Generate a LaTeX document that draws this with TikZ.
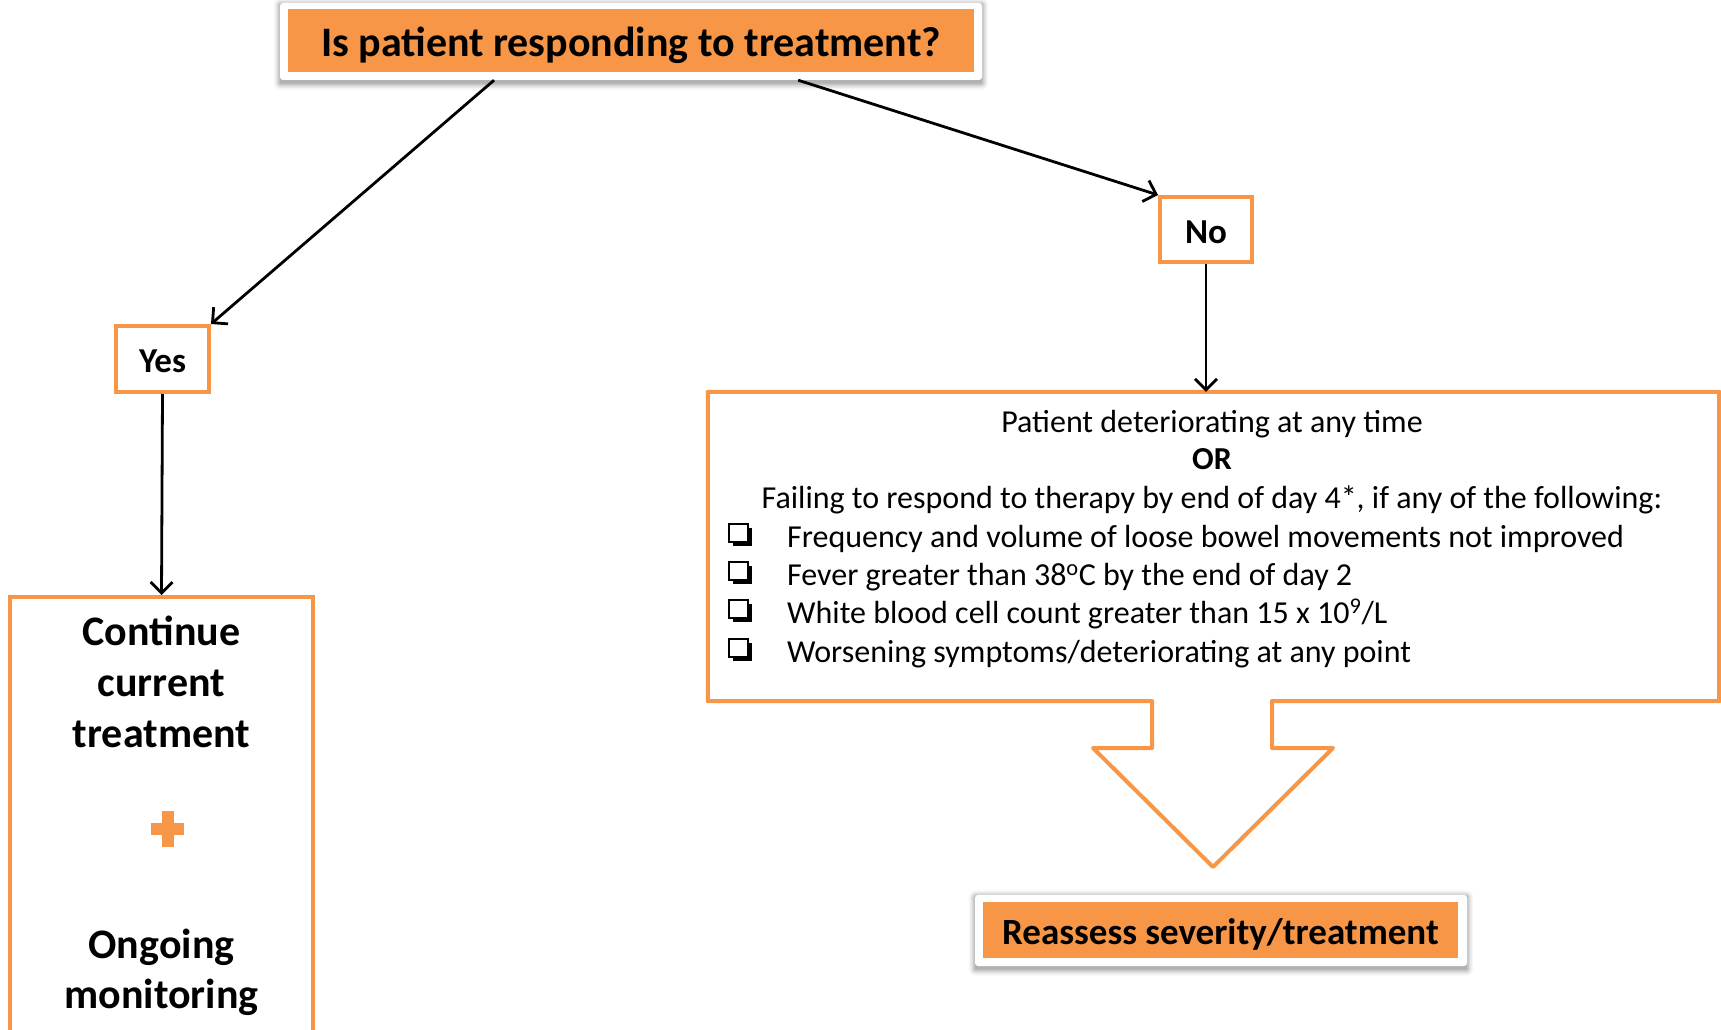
\documentclass[tikz,border=0pt]{standalone}
\usepackage{fontspec}
\setmainfont{Carlito}
\usetikzlibrary{arrows.meta,shadows,calc,backgrounds}
\definecolor{orng}{HTML}{F79646}
\newcommand\softshadow[1]{%
  \begin{scope}[on background layer]
    \foreach \s/\o in {7/0.035,5.5/0.05,4/0.07,2.5/0.09,1/0.1} {
      \fill[black, opacity=\o, rounded corners=\s pt]
        ($(#1.north west)+(-\s+1,-\s+2.5)$) rectangle ($(#1.south east)+(\s-1,\s+2.5)$);
    }
  \end{scope}}
\begin{document}
\begin{tikzpicture}[x=1pt,y=-1pt,
  conn/.style={draw=black, line width=2.8pt, -{Straight Barb[length=11pt,width=22pt,line width=2.8pt]}},
  obox/.style={draw=orng, line width=4pt, fill=white, inner sep=0pt, text height=27pt, text depth=0pt, font=\bfseries\fontsize{35}{38}\selectfont},
  frame/.style={fill=white, inner sep=0pt, rounded corners=3pt},
  title/.style={fill=orng, inner sep=0pt, font=\bfseries\fontsize{42}{46}\selectfont},
  big/.style={font=\bfseries\fontsize{42}{48}\selectfont, anchor=base},
  txt/.style={font=\fontsize{32}{36}\selectfont},
  chk/.style={draw=black, fill=white, line width=1.6pt, minimum width=19pt, minimum height=18pt, inner sep=0pt,
    drop shadow={shadow xshift=3.5pt, shadow yshift=-3.5pt, opacity=1, fill=black}}
]
\useasboundingbox (0,0) rectangle (1721,1030);
\clip (0,0) rectangle (1721,1030);

% top question
\node[frame, minimum width=702pt, minimum height=77pt] (qframe) at (631,41.5) {};
\softshadow{qframe}
\node[title, minimum width=686pt, minimum height=63pt, text height=33pt, text depth=0pt] (q) at (631,40.5) {Is patient responding to treatment?};

% yes / no
\node[obox, minimum width=93pt, minimum height=66pt] (yes) at (162.5,359) {Yes};
\node[obox, minimum width=92pt, minimum height=65pt] (no) at (1206,229.5) {No};

% continue box
\node[draw=orng, line width=4pt, minimum width=303pt, minimum height=520pt, anchor=north] (cont) at (161.5,595) {};
\node[big] (c1) at (161.5,645) {Continue};
\node[big] (c2) at (161.5,696) {current};
\node[big] (c3) at (161.5,747) {treatment};
\node[big] (c4) at (161.5,958) {Ongoing};
\node[big] (c5) at (161.5,1008) {monitoring};
\fill[orng] (161.5,811) rectangle (173.5,847);
\fill[orng] (151,823) rectangle (184,835);

% criteria box
\node[minimum width=1011pt, minimum height=309pt, inner sep=0pt] (crit) at (1213.5,546.5) {};
\draw[orng, line width=4pt, line join=round]
  (crit.north west) -- (crit.north east) -- (crit.south east) -- (1272,701) -- (1272,748)
  -- (1333,748) -- (1213,867) -- (1093,748) -- (1152,748) -- (1152,701) -- (crit.south west) -- cycle;
\node[txt, anchor=base] (l1) at (1212,432) {Patient deteriorating at any time};
\node[txt, anchor=base, font=\bfseries\fontsize{32}{36}\selectfont] (l2) at (1212,469) {OR};
\node[txt, anchor=base] (l3) at (1212,508) {Failing to respond to therapy by end of day 4*, if any of the following:};
\node[chk] (k1) at (738.5,533) {};
\node[chk] (k2) at (738.5,571) {};
\node[chk] (k3) at (738.5,609) {};
\node[chk] (k4) at (738.5,648) {};
\node[txt, anchor=base west, inner sep=0pt] (b1) at (787,547) {Frequency and volume of loose bowel movements not improved};
\node[txt, anchor=base west, inner sep=0pt] (b2) at (787,585) {Fever greater than 38\textsuperscript{o}C by the end of day 2};
\node[txt, anchor=base west, inner sep=0pt] (b3) at (787,623) {White blood cell count greater than 15 x 10\textsuperscript{9}/L};
\node[txt, anchor=base west, inner sep=0pt] (b4) at (787,662) {Worsening symptoms/deteriorating at any point};

% reassess
\node[frame, minimum width=492pt, minimum height=71pt] (rframe) at (1221,930.5) {};
\softshadow{rframe}
\node[title, minimum width=475pt, minimum height=56pt, text height=29pt, text depth=0pt, font=\bfseries\fontsize{37}{40}\selectfont] (r) at (1220.5,930) {Reassess severity/treatment};

% connectors
\draw[conn] ($(qframe.south west)!0.305!(qframe.south east)$) -- (yes.north east);
\draw[conn] ($(qframe.south west)!0.738!(qframe.south east)$) -- (no.north west);
\draw[conn] (yes.south) -- (cont.north);
\draw[conn] (no.south) -- (no.south |- crit.north);
\end{tikzpicture}
\end{document}
